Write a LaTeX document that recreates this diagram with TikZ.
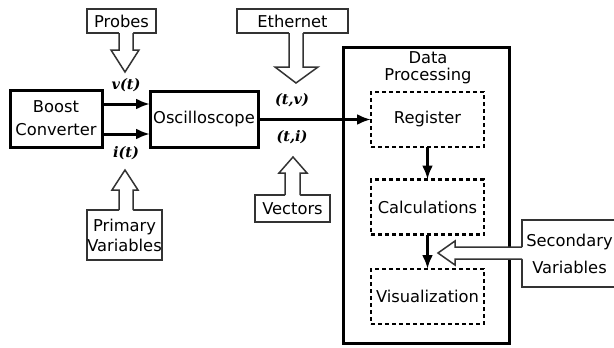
\documentclass[tikz,border=0pt]{standalone}
\usepackage{fontspec}
\setmainfont{DejaVu Sans}
\newfontfamily\lblfont{DejaVu Serif}
\usetikzlibrary{arrows.meta,calc}
\begin{document}
\begin{tikzpicture}[x=1pt,y=-1pt,
  every node/.style={inner sep=0pt,outer sep=0pt},
  thickbox/.style={draw,line width=3pt,fill=white,rectangle,align=center},
  dashbox/.style={draw,line width=2.5pt,dash pattern=on 4pt off 3pt,rectangle,
    minimum width=113pt,minimum height=55pt,align=center,font=\fontsize{16.3}{19}\selectfont},
  srcbox/.style={draw=black!80,line width=1.5pt,fill=white,rectangle,align=center},
  hollow/.style={draw=black!80,line width=1.5pt,line join=miter},
  conn/.style={line width=3pt,-{Latex[length=14pt,width=11pt]}},
  lbl/.style={font=\lblfont\bfseries\itshape\fontsize{14.5}{16}\selectfont}
]
\useasboundingbox (0,0) rectangle (614,348);

% Data processing frame
\node[thickbox,minimum width=166pt,minimum height=296pt] (dp) at (426,195) {};
\node[align=center,font=\fontsize{16.3}{17}\selectfont] (dptitle) at (428,68) {Data\\Processing};
\node[dashbox] (reg) at (427.5,119.5) {Register};
\node[dashbox] (calc) at (427.5,207) {Calculations};
\node[dashbox] (vis) at (427.5,296.5) {Visualization};

% main blocks
\node[thickbox,minimum width=92pt,minimum height=57pt,font=\fontsize{16.3}{23}\selectfont] (boost) at (56,118.5) {Boost\\Converter};
\node[thickbox,minimum width=108pt,minimum height=56pt,font=\fontsize{16.3}{19}\selectfont] (osc) at (204,119.5) {Oscilloscope};

% source boxes
\node[srcbox,minimum width=69pt,minimum height=24pt,font=\fontsize{16.3}{19}\selectfont] (probes) at (121.5,21) {Probes};
\node[srcbox,minimum width=75pt,minimum height=50pt,font=\fontsize{16.3}{20}\selectfont] (primary) at (124.5,235) {Primary\\Variables};
\node[srcbox,minimum width=111pt,minimum height=24pt,font=\fontsize{16.3}{19}\selectfont] (ethernet) at (292.5,21) {Ethernet};
\node[srcbox,minimum width=75pt,minimum height=27pt,font=\fontsize{16.3}{19}\selectfont] (vectors) at (292.5,208.5) {Vectors};
\node[srcbox,minimum width=95pt,minimum height=67pt,font=\fontsize{16.3}{27}\selectfont] (secondary) at (569.5,253.5) {Secondary\\Variables};

% hollow arrows
\fill[white] (119,31) -- (119,50) -- (111,50) -- (125,72) -- (139,50) -- (133,50) -- (133,31) -- cycle;
\draw[hollow] (119,33) -- (119,50) -- (111,50) -- (125,72) -- (139,50) -- (133,50) -- (133,33);

\fill[white] (119,212) -- (119,190) -- (112,190) -- (125,170) -- (138,190) -- (133,190) -- (133,212) -- cycle;
\draw[hollow] (119,210) -- (119,190) -- (112,190) -- (125,170) -- (138,190) -- (133,190) -- (133,210);

\fill[white] (289,31) -- (289,67) -- (275,67) -- (296,83) -- (318,67) -- (303,67) -- (303,31) -- cycle;
\draw[hollow] (289,33) -- (289,67) -- (275,67) -- (296,83) -- (318,67) -- (303,67) -- (303,33);

\fill[white] (285,197) -- (285,173) -- (279,173) -- (293,157) -- (307,173) -- (300,173) -- (300,197) -- cycle;
\draw[hollow] (285,195) -- (285,173) -- (279,173) -- (293,157) -- (307,173) -- (300,173) -- (300,195);

\fill[white] (524,247) -- (455,247) -- (455,241) -- (438,253) -- (455,265) -- (455,259) -- (524,259) -- cycle;
\draw[hollow] (522,247) -- (455,247) -- (455,241) -- (438,253) -- (455,265) -- (455,259) -- (522,259);

% labels
\node[lbl] (vt) at (126,85) {v(t)};
\node[lbl] (it) at (126,153) {i(t)};
\node[lbl] (tv) at (292,100) {(t,v)};
\node[lbl] (ti) at (292,137) {(t,i)};

% connectors
\draw[conn] (boost.east |- 0,104) -- (osc.west |- 0,104);
\draw[conn] (boost.east |- 0,134) -- (osc.west |- 0,134);
\draw[conn] (osc.east) -- (reg.west);
\draw[conn] (reg.south) -- (calc.north);
\draw[conn] (calc.south) -- (vis.north);
\end{tikzpicture}
\end{document}
